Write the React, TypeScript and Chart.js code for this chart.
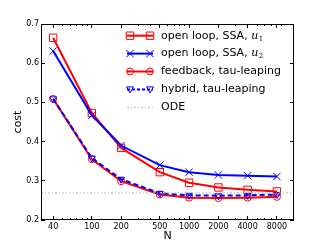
import React, { useEffect, useRef } from 'react';
import { Chart, registerables } from 'chart.js';

Chart.register(...registerables);

// ---- data ----
const N = [40, 100, 200, 500, 1000, 2000, 4000, 8000];
const openLoopU1 = [0.665, 0.473, 0.384, 0.322, 0.295, 0.283, 0.277, 0.273];
const openLoopU2 = [0.631, 0.467, 0.390, 0.340, 0.322, 0.315, 0.313, 0.311];
const feedbackTau = [0.509, 0.355, 0.299, 0.265, 0.257, 0.256, 0.257, 0.259];
const hybridTau = [0.509, 0.358, 0.304, 0.268, 0.263, 0.262, 0.263, 0.265];
const odeCost = 0.269;
const xRange = [30, 12000];
const yTicks = [0.2, 0.3, 0.4, 0.5, 0.6, 0.7];
const legendLabels = [
  'open loop, SSA, ',
  'open loop, SSA, ',
  'feedback, tau-leaping',
  'hybrid, tau-leaping',
  'ODE',
];
const legendMath = ['1', '2', '', '', ''];

const RED = '#ff0000';
const BLUE = '#0000ff';
const GREY = '#b4b4b4';
const FONT = 'DejaVu Sans';

function drawMarker(ctx: CanvasRenderingContext2D, kind: string, x: number, y: number, color: string) {
  ctx.save();
  ctx.strokeStyle = color;
  ctx.lineWidth = 1;
  ctx.setLineDash([]);
  ctx.beginPath();
  if (kind === 'rect') {
    ctx.rect(x - 3.7, y - 3.7, 7.4, 7.4);
  } else if (kind === 'cross') {
    ctx.moveTo(x - 3.7, y - 3.7); ctx.lineTo(x + 3.7, y + 3.7);
    ctx.moveTo(x + 3.7, y - 3.7); ctx.lineTo(x - 3.7, y + 3.7);
  } else if (kind === 'circle') {
    ctx.arc(x, y, 3.5, 0, Math.PI * 2);
  } else if (kind === 'tri') {
    ctx.moveTo(x - 3.5, y - 2.5); ctx.lineTo(x + 3.5, y - 2.5); ctx.lineTo(x, y + 3.5); ctx.closePath();
  }
  ctx.stroke();
  ctx.restore();
}

const framePlugin = {
  id: 'frameTicks',
  afterDraw(chart: any) {
    const { ctx, chartArea: a, scales } = chart;
    const xs = scales.x, ys = scales.y;
    ctx.save();
    ctx.strokeStyle = '#000';
    ctx.lineWidth = 1;
    ctx.setLineDash([]);
    ctx.strokeRect(a.left + 0.5, a.top + 0.5, a.right - a.left - 1, a.bottom - a.top - 1);
    ctx.beginPath();
    // minor x ticks
    for (let k = 1; k <= 4; k++) {
      for (let m = 2; m <= 9; m++) {
        const v = m * Math.pow(10, k);
        if (v < xRange[0] || v > xRange[1]) continue;
        const px = Math.floor(xs.getPixelForValue(v)) + 0.5;
        ctx.moveTo(px, a.bottom); ctx.lineTo(px, a.bottom - 2);
        ctx.moveTo(px, a.top); ctx.lineTo(px, a.top + 2);
      }
    }
    for (const v of N) {
      const px = Math.floor(xs.getPixelForValue(v)) + 0.5;
      ctx.moveTo(px, a.bottom); ctx.lineTo(px, a.bottom - 4);
      ctx.moveTo(px, a.top); ctx.lineTo(px, a.top + 4);
    }
    for (const v of yTicks) {
      const py = Math.floor(ys.getPixelForValue(v)) + 0.5;
      ctx.moveTo(a.left, py); ctx.lineTo(a.left + 4, py);
      ctx.moveTo(a.right, py); ctx.lineTo(a.right - 4, py);
    }
    ctx.stroke();
    ctx.restore();
  },
};

const legendPlugin = {
  id: 'mplLegend',
  afterDraw(chart: any) {
    const { ctx, chartArea: a } = chart;
    const x0 = a.left + 88;
    const x1 = a.left + 110;
    const tx = a.left + 120;
    const styles = [
      { color: RED, marker: 'rect', dash: [] as number[], width: 2 },
      { color: BLUE, marker: 'cross', dash: [] as number[], width: 2 },
      { color: RED, marker: 'circle', dash: [] as number[], width: 2 },
      { color: BLUE, marker: 'tri', dash: [3, 2], width: 2 },
      { color: GREY, marker: '', dash: [2, 2, 1, 2], width: 1 },
    ];
    ctx.save();
    legendLabels.forEach((label, i) => {
      const y = a.top + 11.7 + 17.9 * i;
      const s = styles[i];
      ctx.strokeStyle = s.color;
      ctx.lineWidth = s.width;
      ctx.setLineDash(s.dash);
      ctx.beginPath();
      ctx.moveTo(x0 - 2, y); ctx.lineTo(x1 + 2, y);
      ctx.stroke();
      if (s.marker) {
        drawMarker(ctx, s.marker, x0 + 1, y, s.color);
        drawMarker(ctx, s.marker, x1 - 1, y, s.color);
      }
      ctx.setLineDash([]);
      ctx.fillStyle = '#000';
      ctx.textBaseline = 'middle';
      ctx.textAlign = 'left';
      ctx.font = `11px "${FONT}"`;
      ctx.fillText(label, tx, y);
      if (legendMath[i]) {
        const w = ctx.measureText(label).width;
        ctx.font = `italic 11px "DejaVu Serif"`;
        ctx.fillText('u', tx + w, y);
        const wu = ctx.measureText('u').width;
        ctx.font = `7px "DejaVu Serif"`;
        ctx.fillText(legendMath[i], tx + w + wu + 0.5, y + 3);
      }
    });
    ctx.restore();
  },
};

export default function App() {
  const ref = useRef<HTMLCanvasElement>(null);
  useEffect(() => {
    const canvas = ref.current!;
    const pts = (ys: number[]) => N.map((n, i) => ({ x: n, y: ys[i] }));
    const tickFont = { family: FONT, size: 8 };
    const chart = new Chart(canvas, {
      type: 'line',
      data: {
        datasets: [
          {
            label: 'ODE',
            data: [{ x: xRange[0], y: odeCost }, { x: xRange[1], y: odeCost }],
            borderColor: GREY, borderWidth: 1, borderDash: [2, 2, 1, 2], pointRadius: 0, order: 0,
          },
          {
            label: 'open loop, SSA, u1', data: pts(openLoopU1), borderColor: RED, borderWidth: 2,
            pointStyle: 'rect', pointRadius: 5.2, pointBorderColor: RED, pointBackgroundColor: 'rgba(0,0,0,0)',
            pointBorderWidth: 1, order: 4,
          },
          {
            label: 'open loop, SSA, u2', data: pts(openLoopU2), borderColor: BLUE, borderWidth: 2,
            pointStyle: 'crossRot', pointRadius: 5.2, pointBorderColor: BLUE, pointBorderWidth: 1, order: 3,
          },
          {
            label: 'feedback, tau-leaping', data: pts(feedbackTau), borderColor: RED, borderWidth: 2,
            pointStyle: 'circle', pointRadius: 3.5, pointBorderColor: RED, pointBackgroundColor: 'rgba(0,0,0,0)',
            pointBorderWidth: 1, order: 2,
          },
          {
            label: 'hybrid, tau-leaping', data: pts(hybridTau), borderColor: BLUE, borderWidth: 2,
            borderDash: [5, 3], pointStyle: 'triangle', rotation: 180, pointRadius: 4, pointBorderColor: BLUE,
            pointBackgroundColor: 'rgba(0,0,0,0)', pointBorderWidth: 1, order: 1,
          },
        ] as any,
      },
      options: {
        responsive: false,
        animation: false,
        layout: { padding: { top: 24, right: 33, bottom: 0, left: 0 } },
        plugins: { legend: { display: false }, tooltip: { enabled: false } },
        scales: {
          x: {
            type: 'logarithmic',
            min: xRange[0],
            max: xRange[1],
            afterBuildTicks: (s: any) => { s.ticks = N.map((v) => ({ value: v })); },
            afterFit: (s: any) => { s.height = 25; },
            grid: { display: false, drawTicks: false },
            border: { display: false },
            ticks: {
              font: tickFont, color: '#000', padding: 2, maxRotation: 0, autoSkip: false,
              callback: (v: any) => String(v),
            },
            title: {
              display: true, text: 'N', color: '#000',
              font: { family: FONT, size: 11 }, padding: { top: 0, bottom: 2 },
            },
          },
          y: {
            min: yTicks[0],
            max: yTicks[yTicks.length - 1],
            afterBuildTicks: (s: any) => { s.ticks = yTicks.map((v) => ({ value: v })); },
            afterFit: (s: any) => { s.width = 41; },
            grid: { display: false, drawTicks: false },
            border: { display: false },
            ticks: {
              font: tickFont, color: '#000', padding: 2,
              callback: (v: any) => Number(v).toFixed(1),
            },
            title: {
              display: true, text: 'cost', color: '#000',
              font: { family: FONT, size: 11 }, padding: { top: 12, bottom: 0 },
            },
          },
        },
      } as any,
      plugins: [framePlugin, legendPlugin],
    });
    return () => chart.destroy();
  }, []);
  return (
    <div style={{ position: 'absolute', left: 0, top: 0, width: 327, height: 245, background: '#fff' }}>
      <canvas ref={ref} width={327} height={245} />
    </div>
  );
}
